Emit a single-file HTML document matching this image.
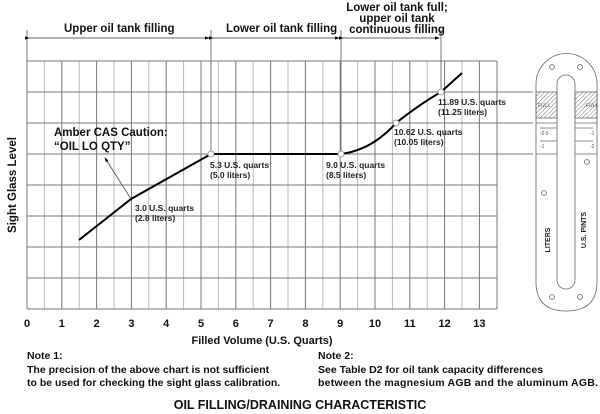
<!DOCTYPE html>
<html><head><meta charset="utf-8"><style>
body{margin:0;background:#fff}
svg{display:block;font-family:"Liberation Sans",Arial,sans-serif}
</style></head><body>
<svg width="600" height="414" viewBox="0 0 600 414" xmlns="http://www.w3.org/2000/svg">
<defs>
<pattern id="h" width="3" height="3" patternUnits="userSpaceOnUse" patternTransform="rotate(45)">
<line x1="0" y1="0" x2="0" y2="3" stroke="#555" stroke-width="0.8"/></pattern>
<marker id="ar" markerWidth="6" markerHeight="6" refX="5" refY="3" orient="auto"><path d="M0,1 L6,3 L0,5z" fill="#000"/></marker>
</defs>
<g stroke="#bbb" stroke-width="1">
<line x1="44.4" y1="61" x2="44.4" y2="309"/><line x1="79.2" y1="61" x2="79.2" y2="309"/><line x1="114" y1="61" x2="114" y2="309"/><line x1="148.8" y1="61" x2="148.8" y2="309"/><line x1="183.6" y1="61" x2="183.6" y2="309"/><line x1="218.4" y1="61" x2="218.4" y2="309"/><line x1="253.2" y1="61" x2="253.2" y2="309"/><line x1="288" y1="61" x2="288" y2="309"/><line x1="322.8" y1="61" x2="322.8" y2="309"/><line x1="357.6" y1="61" x2="357.6" y2="309"/><line x1="392.4" y1="61" x2="392.4" y2="309"/><line x1="427.2" y1="61" x2="427.2" y2="309"/><line x1="462" y1="61" x2="462" y2="309"/>
</g>
<g stroke="#777" stroke-width="1">
<line x1="61.8" y1="61" x2="61.8" y2="309"/><line x1="96.6" y1="61" x2="96.6" y2="309"/><line x1="131.4" y1="61" x2="131.4" y2="309"/><line x1="166.2" y1="61" x2="166.2" y2="309"/><line x1="201" y1="61" x2="201" y2="309"/><line x1="235.8" y1="61" x2="235.8" y2="309"/><line x1="270.6" y1="61" x2="270.6" y2="309"/><line x1="305.4" y1="61" x2="305.4" y2="309"/><line x1="340.2" y1="61" x2="340.2" y2="309"/><line x1="375" y1="61" x2="375" y2="309"/><line x1="409.8" y1="61" x2="409.8" y2="309"/><line x1="444.6" y1="61" x2="444.6" y2="309"/><line x1="479.4" y1="61" x2="479.4" y2="309"/>
<line x1="27" y1="61" x2="497" y2="61"/><line x1="27" y1="92" x2="533" y2="92"/><line x1="27" y1="123" x2="533" y2="123"/><line x1="27" y1="154" x2="533" y2="154"/><line x1="27" y1="185" x2="497" y2="185"/><line x1="27" y1="216" x2="497" y2="216"/><line x1="27" y1="247" x2="497" y2="247"/><line x1="27" y1="278" x2="497" y2="278"/><line x1="27" y1="309" x2="497" y2="309"/>
<line x1="27" y1="30" x2="27" y2="309"/><line x1="497" y1="61" x2="497" y2="309"/>
<line x1="211" y1="30" x2="211" y2="154"/><line x1="341" y1="30" x2="341" y2="154"/><line x1="441" y1="30" x2="441" y2="92"/>
</g>
<g stroke="#333" stroke-width="0.8">
<line x1="29" y1="38" x2="209" y2="38" marker-start="url(#ar)" marker-end="url(#ar)"/>
<line x1="213" y1="38" x2="339" y2="38" marker-start="url(#ar)" marker-end="url(#ar)"/>
<line x1="343" y1="38" x2="439" y2="38" marker-start="url(#ar)" marker-end="url(#ar)"/>
</g>
<path d="M79,240 L131,199 L211,154 L341,154 Q372,150 396,123 Q420,104 441,92 L462,73" fill="none" stroke="#000" stroke-width="2"/>
<g fill="#fff" stroke="#888" stroke-width="0.8"><circle cx="211" cy="154" r="3"/><circle cx="341" cy="154" r="3"/><circle cx="396" cy="123" r="3"/><circle cx="441" cy="92" r="3"/></g>
<line x1="131" y1="199" x2="105" y2="158" stroke="#444" stroke-width="0.8" marker-end="url(#ar)"/>
<g font-size="11.5" font-weight="bold" fill="#111">
<text x="64" y="32">Upper oil tank filling</text>
<text x="226" y="32">Lower oil tank filling</text>
<text x="397" y="11" text-anchor="middle">Lower oil tank full;</text>
<text x="397" y="22" text-anchor="middle">upper oil tank</text>
<text x="397" y="33" text-anchor="middle">continuous filling</text>
<text x="54" y="136">Amber CAS Caution:</text>
<text x="54" y="150">“OIL LO QTY”</text>
<text x="16" y="185" text-anchor="middle" transform="rotate(-90 16 185)">Sight Glass Level</text>
</g>
<g font-size="8.5" font-weight="bold" fill="#222">
<text x="210" y="168">5.3 U.S. quarts</text><text x="210" y="178">(5.0 liters)</text>
<text x="135" y="211">3.0 U.S. quarts</text><text x="135" y="221">(2.8 liters)</text>
<text x="326" y="168">9.0 U.S. quarts</text><text x="326" y="178">(8.5 liters)</text>
<text x="394" y="135">10.62 U.S. quarts</text><text x="394" y="145">(10.05 liters)</text>
<text x="438" y="105">11.89 U.S. quarts</text><text x="438" y="115">(11.25 liters)</text>
</g>
<g font-size="11" font-weight="bold" fill="#111" text-anchor="middle">
<text x="27" y="327">0</text><text x="61.8" y="327">1</text><text x="96.6" y="327">2</text><text x="131.4" y="327">3</text><text x="166.2" y="327">4</text><text x="201" y="327">5</text><text x="235.8" y="327">6</text><text x="270.6" y="327">7</text><text x="305.4" y="327">8</text><text x="340.2" y="327">9</text><text x="375" y="327">10</text><text x="409.8" y="327">11</text><text x="444.6" y="327">12</text><text x="479.4" y="327">13</text>
<text x="262" y="344">Filled Volume (U.S. Quarts)</text>
<text x="300" y="409" font-size="12.5">OIL FILLING/DRAINING CHARACTERISTIC</text>
</g>
<g font-size="10.5" font-weight="bold" fill="#111">
<text x="27" y="359">Note 1:</text>
<text x="27" y="373">The precision of the above chart is not sufficient</text>
<text x="27" y="386">to be used for checking the sight glass calibration.</text>
<text x="318" y="359">Note 2:</text>
<text x="318" y="373">See Table D2 for oil tank capacity differences</text>
<text x="318" y="386" textLength="280">between the magnesium AGB and the aluminum AGB.</text>
</g>
<g fill="none" stroke="#666" stroke-width="0.8">
<path d="M536,84 A30,30 0 0 1 597,84 L597,282 Q597,311 566,311 Q536,311 536,282 Z"/>
<path d="M557,84 A9,9 0 0 1 575,84 L575,280 A9,9 0 0 1 557,280 Z"/>
<rect x="536" y="92" width="21" height="26" fill="url(#h)"/><rect x="575" y="92" width="22" height="26" fill="url(#h)"/>
<line x1="536" y1="123" x2="557" y2="123"/><line x1="575" y1="123" x2="597" y2="123"/>
<line x1="540" y1="128" x2="557" y2="128"/><line x1="575" y1="128" x2="593" y2="128"/>
<line x1="540" y1="141" x2="557" y2="141"/><line x1="575" y1="141" x2="593" y2="141"/>
<line x1="536" y1="154" x2="557" y2="154"/><line x1="575" y1="154" x2="597" y2="154"/>
<circle cx="552" cy="67" r="2.5"/><circle cx="580" cy="67" r="2.5"/><circle cx="587" cy="162" r="2.5"/><circle cx="544" cy="193" r="2.5"/><circle cx="552" cy="297" r="2.5"/><circle cx="580" cy="297" r="2.5"/>
</g>
<g font-size="5" fill="#555"><text x="538" y="107">FULL</text><text x="586" y="107">FULL</text><text x="540" y="135">-0.5</text><text x="540" y="148">-1</text><text x="590" y="135">-1</text><text x="590" y="148">-2</text></g>
<g font-size="7" font-weight="bold" fill="#222" text-anchor="middle">
<text x="550" y="240" transform="rotate(-90 550 240)">LITERS</text>
<text x="586" y="230" transform="rotate(-90 586 230)">U.S. PINTS</text>
</g>
</svg>
</body></html>
